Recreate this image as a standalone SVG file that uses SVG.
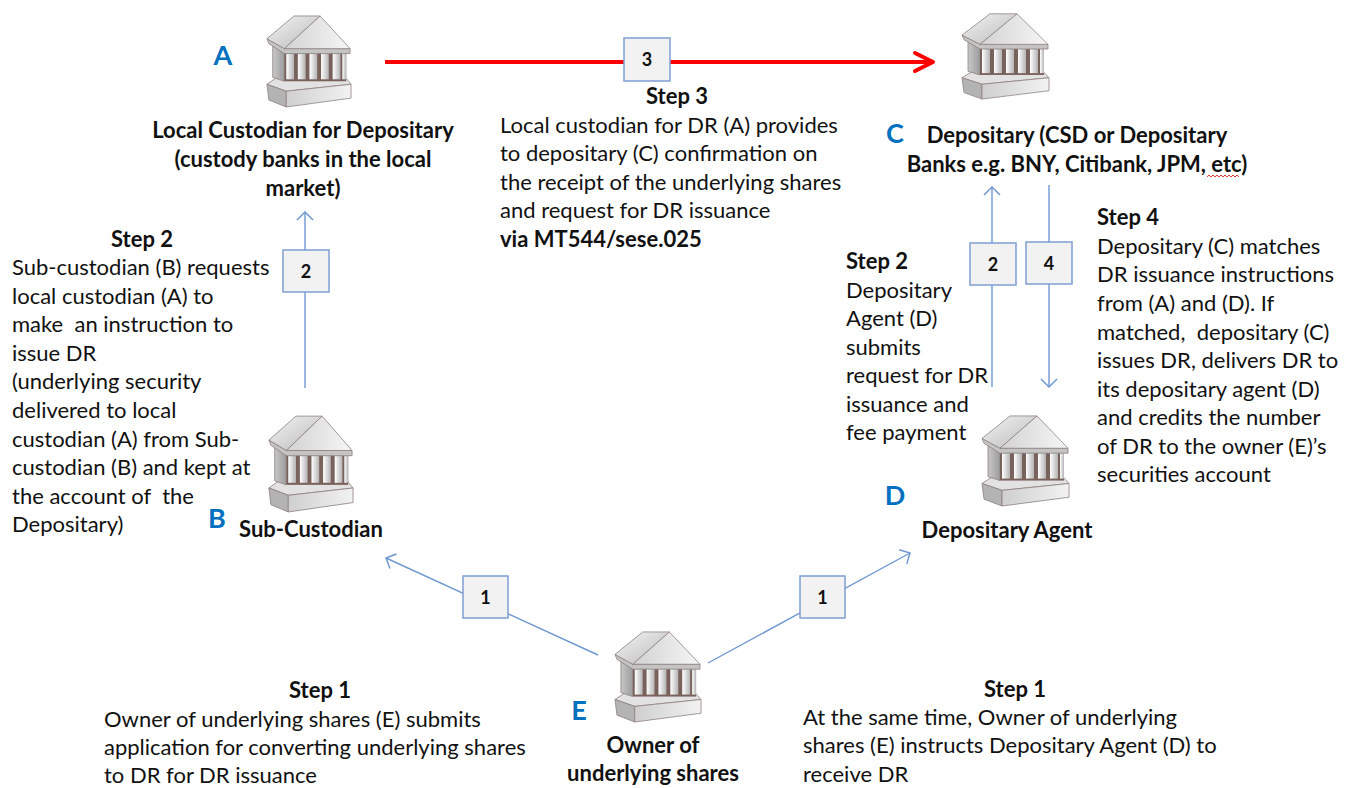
<svg xmlns="http://www.w3.org/2000/svg" width="1352" height="788" viewBox="0 0 1352 788">
<style>
  .t{font-family:Lato,"Liberation Sans",sans-serif;font-size:22px;fill:#111;white-space:pre}
  .b{font-family:Lato,"Liberation Sans",sans-serif;font-size:22px;font-weight:bold;fill:#111}
  .L{font-family:Lato,"Liberation Sans",sans-serif;font-size:27px;font-weight:bold;fill:#0070c0}
  .n{font-family:Lato,"Liberation Sans",sans-serif;font-size:18px;font-weight:bold;fill:#111;text-anchor:middle}
  .c{text-anchor:middle}
  .ln{stroke:#6f98d1;stroke-width:1.4;fill:none}
  .bx{fill:#f2f2f2;stroke:#7f9fd2;stroke-width:1.5}
  .ol{stroke:#8c807c;stroke-width:0.8;stroke-linejoin:round}
</style>
<defs>
  <linearGradient id="gRoofL" x1="0" y1="0" x2="1" y2="1"><stop offset="0" stop-color="#f4f4f4"/><stop offset="1" stop-color="#b9b9b9"/></linearGradient>
  <linearGradient id="gRoofF" x1="0" y1="0" x2="1" y2="0"><stop offset="0" stop-color="#d2d2d2"/><stop offset="1" stop-color="#f6f6f6"/></linearGradient>
  <linearGradient id="gCol" x1="0" y1="0" x2="1" y2="0"><stop offset="0" stop-color="#ffffff"/><stop offset="1" stop-color="#b4b4b4"/></linearGradient>
  <linearGradient id="gSide" x1="0" y1="0" x2="1" y2="0"><stop offset="0" stop-color="#c8c8c8"/><stop offset="1" stop-color="#9c9c9c"/></linearGradient>
  <linearGradient id="gBase" x1="0" y1="0" x2="1" y2="0"><stop offset="0" stop-color="#cfcfcf"/><stop offset="1" stop-color="#f2f2f2"/></linearGradient>
  <symbol id="bank" viewBox="0 0 90 96" preserveAspectRatio="none">
    <polygon class="ol" points="2,72 14,64 82,64 89,72 22,79" fill="#e2e2e2"/>
    <polygon class="ol" points="2,72 22,79 22,95 4,88" fill="#b3b3b3"/>
    <polygon class="ol" points="22,79 89,72 89,86 22,95" fill="url(#gBase)"/>
    <polygon class="ol" points="8,31 20,40 20,69 8,65" fill="url(#gSide)"/>
    <rect x="20" y="40" width="64" height="29" fill="#7a625c"/>
    <rect x="22" y="40" width="8" height="27" fill="url(#gCol)"/>
    <rect x="34" y="40" width="8" height="27" fill="url(#gCol)"/>
    <rect x="46" y="40" width="8" height="27" fill="url(#gCol)"/>
    <rect x="58" y="40" width="8" height="27" fill="url(#gCol)"/>
    <rect x="70" y="40" width="8" height="27" fill="url(#gCol)"/>
    <rect x="80" y="40" width="4" height="27" fill="url(#gCol)"/>
    <polygon class="ol" points="2,26 20,36 88,36 88,41 20,41 4,31" fill="#c4c4c4"/>
    <polygon class="ol" points="2,26 30,3 57,3 20,36" fill="url(#gRoofL)"/>
    <polygon class="ol" points="20,36 57,3 88,36" fill="url(#gRoofF)"/>
  </symbol>
  <marker id="ab" viewBox="0 0 10 18" refX="9" refY="9" markerWidth="10" markerHeight="18" markerUnits="userSpaceOnUse" orient="auto">
    <path d="M1,1 L9,9 L1,17" fill="none" stroke="#6f98d1" stroke-width="1.5"/>
  </marker>
  <marker id="ar" viewBox="0 0 24 24" refX="21" refY="12" markerWidth="24" markerHeight="24" markerUnits="userSpaceOnUse" orient="auto">
    <path d="M3,3 L21,12 L3,21" fill="none" stroke="#ff0000" stroke-width="4" stroke-linecap="round" stroke-linejoin="round"/>
  </marker>
</defs>
<rect width="1352" height="788" fill="#ffffff"/>

<g id="connectors">
  <line x1="385" y1="62" x2="933" y2="62" stroke="#ff0000" stroke-width="4" marker-end="url(#ar)"/>
  <rect class="bx" x="624" y="38" width="46" height="43"/>
  <text class="n" x="647" y="66">3</text>

  <line class="ln" x1="305" y1="388" x2="305" y2="212" marker-end="url(#ab)"/>
  <rect class="bx" x="283" y="250" width="46" height="42"/>
  <text class="n" x="306" y="278">2</text>

  <line class="ln" x1="992" y1="387" x2="992" y2="187" marker-end="url(#ab)"/>
  <rect class="bx" x="970" y="243" width="46" height="42"/>
  <text class="n" x="993" y="271">2</text>

  <line class="ln" x1="1049" y1="185" x2="1049" y2="387" marker-end="url(#ab)"/>
  <rect class="bx" x="1026" y="242" width="46" height="42"/>
  <text class="n" x="1049" y="270">4</text>

  <line class="ln" x1="598" y1="655" x2="386" y2="558" marker-end="url(#ab)"/>
  <rect class="bx" x="463" y="576" width="45" height="42"/>
  <text class="n" x="485.5" y="604">1</text>

  <line class="ln" x1="708" y1="663" x2="910" y2="553" marker-end="url(#ab)"/>
  <rect class="bx" x="800" y="576" width="45" height="42"/>
  <text class="n" x="822.5" y="604">1</text>
</g>

<g id="nodeA">
  <use href="#bank" x="265" y="13" width="87" height="95"/>
  <text class="L c" x="223" y="65">A</text>
  <text class="b c" x="303" y="138">Local Custodian for Depositary</text>
  <text class="b c" x="303" y="167">(custody banks in the local</text>
  <text class="b c" x="303" y="196">market)</text>
</g>

<g id="nodeC">
  <use href="#bank" x="960" y="11" width="90" height="89"/>
  <text class="L c" x="895" y="143">C</text>
  <text class="b c" x="1077" y="143">Depositary (CSD or Depositary</text>
  <text class="b c" x="1077" y="172">Banks e.g. BNY, Citibank, JPM, etc)</text>
  <path d="M1207,177 l2,-2 l2,2 l2,-2 l2,2 l2,-2 l2,2 l2,-2 l2,2 l2,-2 l2,2 l2,-2 l2,2 l2,-2 l2,2 l2,-2 l2,2" fill="none" stroke="#e02020" stroke-width="0.9"/>
</g>

<g id="nodeB">
  <use href="#bank" x="267" y="413" width="87" height="100"/>
  <text class="L c" x="217" y="528">B</text>
  <text class="b c" x="311" y="537">Sub-Custodian</text>
</g>

<g id="nodeD">
  <use href="#bank" x="980" y="413" width="90" height="94"/>
  <text class="L c" x="895" y="505">D</text>
  <text class="b c" x="1007" y="538">Depositary Agent</text>
</g>

<g id="nodeE">
  <use href="#bank" x="613" y="629" width="89" height="94"/>
  <text class="L c" x="579" y="720">E</text>
  <text class="b c" x="653" y="753">Owner of</text>
  <text class="b c" x="653" y="781">underlying shares</text>
</g>

<g id="step3">
  <text class="b c" x="677" y="104">Step 3</text>
  <text class="t" x="500" y="133">Local custodian for DR (A) provides</text>
  <text class="t" x="500" y="161">to depositary (C) confirmation on</text>
  <text class="t" x="500" y="190">the receipt of the underlying shares</text>
  <text class="t" x="500" y="218">and request for DR issuance</text>
  <text class="b" x="500" y="247">via MT544/sese.025</text>
</g>

<g id="step2left">
  <text class="b c" x="142" y="247">Step 2</text>
  <text class="t" x="12" y="275">Sub-custodian (B) requests</text>
  <text class="t" x="12" y="304">local custodian (A) to</text>
  <text class="t" x="12" y="332">make  an instruction to</text>
  <text class="t" x="12" y="361">issue DR</text>
  <text class="t" x="12" y="389">(underlying security</text>
  <text class="t" x="12" y="418">delivered to local</text>
  <text class="t" x="12" y="447">custodian (A) from Sub-</text>
  <text class="t" x="12" y="475">custodian (B) and kept at</text>
  <text class="t" x="12" y="504">the account of  the</text>
  <text class="t" x="12" y="532">Depositary)</text>
</g>

<g id="step2right">
  <text class="b" x="846" y="269">Step 2</text>
  <text class="t" x="846" y="298">Depositary</text>
  <text class="t" x="846" y="326">Agent (D)</text>
  <text class="t" x="846" y="355">submits</text>
  <text class="t" x="846" y="383">request for DR</text>
  <text class="t" x="846" y="412">issuance and</text>
  <text class="t" x="846" y="440">fee payment</text>
</g>

<g id="step4">
  <text class="b" x="1097" y="225">Step 4</text>
  <text class="t" x="1097" y="254">Depositary (C) matches</text>
  <text class="t" x="1097" y="282">DR issuance instructions</text>
  <text class="t" x="1097" y="311">from (A) and (D). If</text>
  <text class="t" x="1097" y="340">matched,  depositary (C)</text>
  <text class="t" x="1097" y="368">issues DR, delivers DR to</text>
  <text class="t" x="1097" y="397">its depositary agent (D)</text>
  <text class="t" x="1097" y="425">and credits the number</text>
  <text class="t" x="1097" y="454">of DR to the owner (E)’s</text>
  <text class="t" x="1097" y="482">securities account</text>
</g>

<g id="step1left">
  <text class="b c" x="320" y="698">Step 1</text>
  <text class="t" x="104" y="727">Owner of underlying shares (E) submits</text>
  <text class="t" x="104" y="755">application for converting underlying shares</text>
  <text class="t" x="104" y="783">to DR for DR issuance</text>
</g>

<g id="step1right">
  <text class="b c" x="1015" y="697">Step 1</text>
  <text class="t" x="803" y="725">At the same time, Owner of underlying</text>
  <text class="t" x="803" y="753">shares (E) instructs Depositary Agent (D) to</text>
  <text class="t" x="803" y="782">receive DR</text>
</g>
</svg>
